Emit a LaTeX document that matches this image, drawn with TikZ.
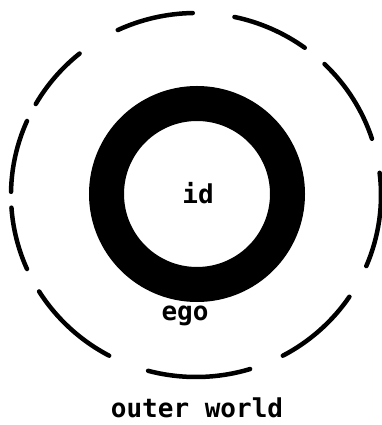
\documentclass[tikz,border=0pt]{standalone}
\usepackage{fontspec}
\setmonofont{DejaVu Sans Mono}
\usepackage{tikz}
\usetikzlibrary{positioning,calc}

\begin{document}
\begin{tikzpicture}[
    x=1pt, y=1pt,
    ego_ring/.style = {
        draw=black,
        line width=35pt
    },
    world_dash/.style = {
        draw=black,
        line width=4.5pt,
        line cap=round
    },
    label_text/.style = {
        anchor=base,
        inner sep=0pt,
        font=\fontsize{26}{30}\selectfont\ttfamily\bfseries
    }
]

    % Frame
    \useasboundingbox (0,0) rectangle (381,425);

    % Centres
    \coordinate (mid) at (196,230);
    \coordinate (core) at (197,231);

    % Ego ring
    \draw [ego_ring] (core) circle (90.5);

    % Outer world, broken circle
    \foreach \a/\b in {91/115, 54/78, 18/46, -23/7, -62/-34, -105/-73,
                       -148/-118, -176/-156, 156/179, 129/150} {
        \draw [world_dash] ($(mid)+(\a:185 and 182)$)
            arc [start angle=\a, end angle=\b, x radius=185, y radius=182];
    }

    % Labels
    \node [label_text] (id) at (198,221) {id};
    \node [label_text] (ego) at (185,104) {ego};
    \node [label_text] (world) at (197,8) {outer world};

\end{tikzpicture}
\end{document}
